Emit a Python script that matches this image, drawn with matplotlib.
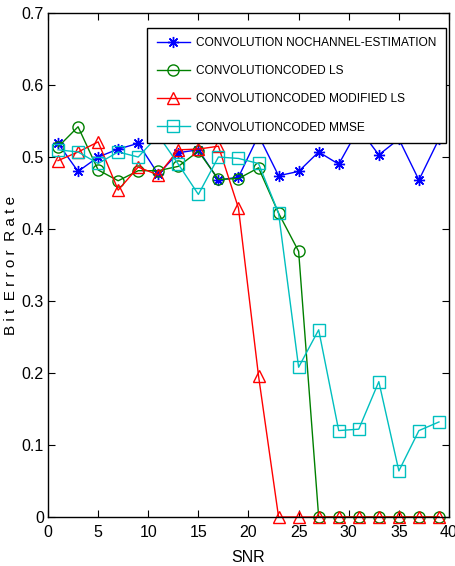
import matplotlib.pyplot as plt
import numpy as np

snr = np.arange(1, 40, 2)

ber_none = [0.519, 0.480, 0.500, 0.511, 0.519, 0.476, 0.506, 0.510, 0.468, 0.472,
            0.530, 0.474, 0.480, 0.507, 0.490, 0.540, 0.503, 0.525, 0.468, 0.525]
ber_ls = [0.514, 0.542, 0.482, 0.467, 0.481, 0.481, 0.487, 0.508, 0.469, 0.470,
          0.485, 0.422, 0.369, 0, 0, 0, 0, 0, 0, 0]
ber_mls = [0.495, 0.507, 0.521, 0.454, 0.486, 0.475, 0.510, 0.511, 0.515, 0.429,
           0.196, 0, 0, 0, 0, 0, 0, 0, 0, 0]
ber_mmse = [0.510, 0.507, 0.491, 0.507, 0.500, 0.530, 0.490, 0.448, 0.500, 0.498,
            0.491, 0.422, 0.208, 0.260, 0.120, 0.122, 0.188, 0.064, 0.120, 0.132]

labels = ["CONVOLUTION NOCHANNEL-ESTIMATION",
          "CONVOLUTIONCODED LS",
          "CONVOLUTIONCODED MODIFIED LS",
          "CONVOLUTIONCODED MMSE"]

plt.rcParams['font.family'] = ['Liberation Sans', 'DejaVu Sans']

fig = plt.figure(figsize=(4.55, 5.66), dpi=100)
ax = fig.add_axes([0.1055, 0.0866, 0.8813, 0.8904])

# MATLAB-style open markers, drawn in plot order
style = dict(linewidth=1, markersize=8, fillstyle='none', markeredgewidth=1, clip_on=False)
ax.plot(snr, ber_none, '-', marker=(8, 2, 0), color=(0, 0, 1), label=labels[0], **style)
ax.plot(snr, ber_ls, '-o', color=(0, 0.5, 0), label=labels[1], **style)
ax.plot(snr, ber_mls, '-^', color=(1, 0, 0), label=labels[2], **style)
ax.plot(snr, ber_mmse, '-s', color=(0, 0.75, 0.75), label=labels[3], **style)

ax.set_xlim(0, 40)
ax.set_ylim(0, 0.7)
ax.set_xticks(np.arange(0, 41, 5))
ax.set_yticks(np.arange(0, 0.71, 0.1))
ax.set_yticklabels(["0", "0.1", "0.2", "0.3", "0.4", "0.5", "0.6", "0.7"])
ax.tick_params(direction='in', top=True, right=True, labelsize=11.5, length=5)
ax.tick_params(axis='x', pad=6)
ax.tick_params(axis='y', pad=3)
for s in ax.spines.values():
    s.set_linewidth(1)

ax.set_xlabel("SNR", fontsize=11.5, labelpad=7)
ax.set_ylabel("B i t  E r r o r  R a t e", fontsize=11)
ax.yaxis.set_label_coords(-0.075, 0.5)

leg = ax.legend(loc='upper right', bbox_to_anchor=(0.9925, 0.971), fontsize=8.6,
                frameon=True, fancybox=False, edgecolor='black', framealpha=1,
                handlelength=2.8, handletextpad=0.5, labelspacing=1.35,
                borderpad=0.8, borderaxespad=0)
leg.get_frame().set_linewidth(1)

fig.savefig("out.png", dpi=100)
plt.close(fig)
